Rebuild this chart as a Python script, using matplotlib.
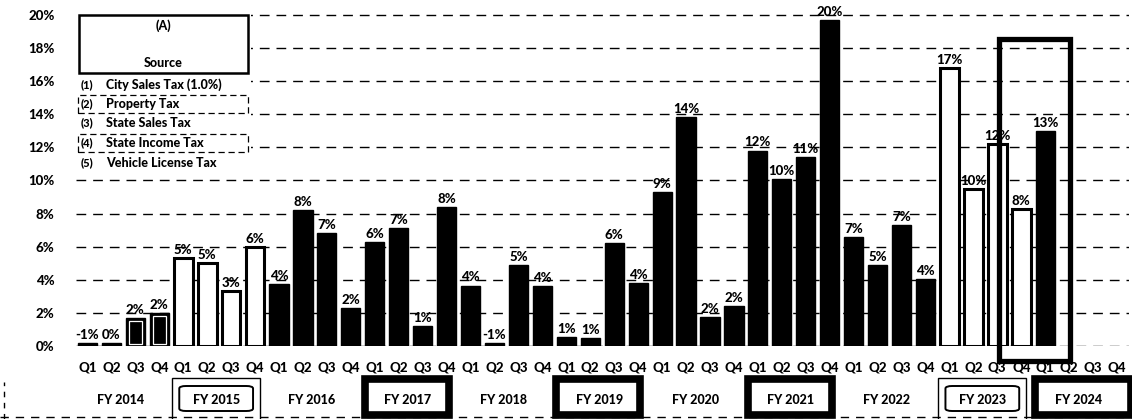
import numpy as np
import matplotlib
matplotlib.use("Agg")
import matplotlib.pyplot as plt
from matplotlib.patches import Rectangle, FancyBboxPatch
from matplotlib.lines import Line2D

WT = 'black'
plt.rcParams['font.family'] = ['Lato', 'DejaVu Sans']
plt.rcParams['font.weight'] = WT

# ---------------- data ----------------
quarters = ['Q1', 'Q2', 'Q3', 'Q4'] * 11
fiscal_years = ['FY 2014', 'FY 2015', 'FY 2016', 'FY 2017', 'FY 2018', 'FY 2019',
                'FY 2020', 'FY 2021', 'FY 2022', 'FY 2023', 'FY 2024']
growth = [0.2, 0.2, 1.7, 2.0,
          5.3, 5.0, 3.3, 6.0,
          3.75, 8.2, 6.8, 2.3,
          6.3, 7.15, 1.2, 8.4,
          3.65, 0.2, 4.9, 3.6,
          0.55, 0.5, 6.2, 3.8,
          9.3, 13.8, 1.75, 2.4,
          11.8, 10.1, 11.4, 19.7,
          6.6, 4.9, 7.3, 4.05,
          16.8, 9.5, 12.2, 8.25,
          13.0]
growth_labels = ['-1%', '0%', '2%', '2%',
                 '5%', '5%', '3%', '6%',
                 '4%', '8%', '7%', '2%',
                 '6%', '7%', '1%', '8%',
                 '4%', '-1%', '5%', '4%',
                 '1%', '1%', '6%', '4%',
                 '9%', '14%', '2%', '2%',
                 '12%', '10%', '11%', '20%',
                 '7%', '5%', '7%', '4%',
                 '17%', '10%', '12%', '8%',
                 '13%']
hollow_years = ['FY 2015', 'FY 2023']
thick_box_years = ['FY 2017', 'FY 2019', 'FY 2021', 'FY 2024']
thin_box_years = ['FY 2015', 'FY 2023']
y_ticks = [0, 2, 4, 6, 8, 10, 12, 14, 16, 18, 20]
y_tick_labels = ['0%', '2%', '4%', '6%', '8%', '10%', '12%', '14%', '16%', '18%', '20%']
legend_title = '(A)'
legend_sub = 'Source'
legend_nums = ['(1)', '(2)', '(3)', '(4)', '(5)']
legend_items = ['City Sales Tax (1.0%)', 'Property Tax', 'State Sales Tax',
                'State Income Tax', 'Vehicle License Tax']
boxed_items = [1, 3]
highlight_quarters = [39, 40]

# ---------------- figure ----------------
W, H = 1132, 419
fig = plt.figure(figsize=(W / 100, H / 100), dpi=100)
fig.patch.set_facecolor('white')


def fx(px):
    return px / W


def fy(py):
    return 1 - py / H


ax_left, ax_right = 75.5, 1129
ax_top, ax_bot = 6.5, 346
ax = fig.add_axes([fx(ax_left), fy(ax_bot), fx(ax_right - ax_left), (ax_bot - ax_top) / H])
ax.set_xlim(-0.5, len(quarters) - 0.5)
ax.set_ylim(0, 20.5)
for s in ax.spines.values():
    s.set_visible(False)

# gridlines
for t in y_ticks:
    ax.axhline(t, color='black', lw=1.0, ls=(0, (7, 5)), zorder=0)

# bars
for i, (h, lab) in enumerate(zip(growth, growth_labels)):
    fy_name = fiscal_years[i // 4]
    if fy_name in hollow_years:
        ax.bar(i, h, width=0.78, color='white', edgecolor='black', lw=2.2, zorder=2)
    else:
        ax.bar(i, h, width=0.8, color='black', edgecolor='black', lw=1, zorder=2)
    ax.annotate(lab, (i, h), xytext=(0, 1.5), textcoords='offset points',
                ha='center', va='bottom', fontsize=9.5, fontweight=WT, zorder=5)
# inner white outline on FY2014 small bars
for i in [2, 3]:
    ax.bar(i, growth[i] - 0.35, bottom=0.15, width=0.55, color='none',
           edgecolor='white', lw=0.9, zorder=3)

# y tick labels
ax.set_yticks(y_ticks)
ax.set_yticklabels(y_tick_labels, fontsize=9.5, fontweight=WT)
ax.tick_params(axis='y', length=0, pad=15)

# quarter tick labels
ax.set_xticks(np.arange(len(quarters)))
ax.set_xticklabels(quarters, fontsize=9.5, fontweight=WT)
ax.tick_params(axis='x', length=0, pad=11)

# highlight rectangle around FY2023 Q4 / FY2024 Q1
hx0 = highlight_quarters[0] - 0.95
hx1 = highlight_quarters[1] + 1.05
ax.add_patch(Rectangle((hx0, -0.9), hx1 - hx0, 18.55 + 0.9, fill=False,
                       edgecolor='black', lw=3.8, zorder=6, clip_on=False))

# legend block (white background hides gridlines)
fig.patches.append(Rectangle((fx(75), fy(156)), fx(176), (156 - 8) / H,
                             transform=fig.transFigure, facecolor='white',
                             edgecolor='none', zorder=1))
fig.patches.append(Rectangle((fx(79), fy(73)), fx(169), (73 - 15) / H,
                             transform=fig.transFigure, facecolor='white',
                             edgecolor='black', lw=1.8, zorder=2))
fig.text(fx(163), fy(26), legend_title, ha='center', va='center', fontsize=9, fontweight=WT)
fig.text(fx(163), fy(63), legend_sub, ha='center', va='center', fontsize=9, fontweight=WT)
item_y = [85, 104, 123, 143, 163]
for k, (num, txt, yy) in enumerate(zip(legend_nums, legend_items, item_y)):
    fig.text(fx(81), fy(yy), num, ha='left', va='center', fontsize=8, fontweight=WT, zorder=3)
    fig.text(fx(106), fy(yy), txt, ha='left', va='center', fontsize=9, fontweight=WT, zorder=3)
    if k in boxed_items:
        fig.patches.append(Rectangle((fx(78), fy(yy + 9)), fx(170), 18 / H,
                                     transform=fig.transFigure, fill=False,
                                     edgecolor='black', lw=0.9, ls=(0, (5, 3)), zorder=3))

# fiscal-year row
slot = (ax_right - ax_left) / len(quarters)
for j, name in enumerate(fiscal_years):
    x0 = ax_left + 4 * j * slot
    x1 = x0 + 4 * slot
    cx = (x0 + x1) / 2 - 3
    if name in thick_box_years:
        bx0, bx1 = x0 - 1, x1 - 7
        if name == 'FY 2024':
            bx1 = W + 2
        fig.patches.append(Rectangle((fx(bx0 + 3), fy(415)), fx(bx1 - bx0 - 6), (415 - 379) / H,
                                     transform=fig.transFigure, facecolor='white',
                                     edgecolor='black', lw=5.5, zorder=3))
    elif name in thin_box_years:
        bx0, bx1 = x0 + 1, x1 - 7
        fig.patches.append(Rectangle((fx(bx0), fy(420)), fx(bx1 - bx0), (420 - 378) / H,
                                     transform=fig.transFigure, fill=False,
                                     edgecolor='black', lw=1.0, zorder=3))
        fig.patches.append(FancyBboxPatch((fx(bx0 + 7), fy(411)), fx(bx1 - bx0 - 14), (411 - 386) / H,
                                          boxstyle='round,pad=0,rounding_size=0.006',
                                          transform=fig.transFigure, fill=False,
                                          edgecolor='black', lw=1.4, zorder=3))
    fig.text(fx(cx), fy(400), name, ha='center', va='center', fontsize=9,
             fontweight=WT, zorder=4)

# dashed outline along bottom / left
fig.lines.append(Line2D([0, 1], [fy(416.5), fy(416.5)], transform=fig.transFigure,
                        color='black', lw=1.0, ls=(0, (6, 5)), zorder=1))
fig.lines.append(Line2D([fx(4), fx(4)], [fy(419), fy(382)], transform=fig.transFigure,
                        color='black', lw=1.0, ls=(0, (4, 4)), zorder=1))

fig.savefig('out.png', dpi=100, facecolor='white')
